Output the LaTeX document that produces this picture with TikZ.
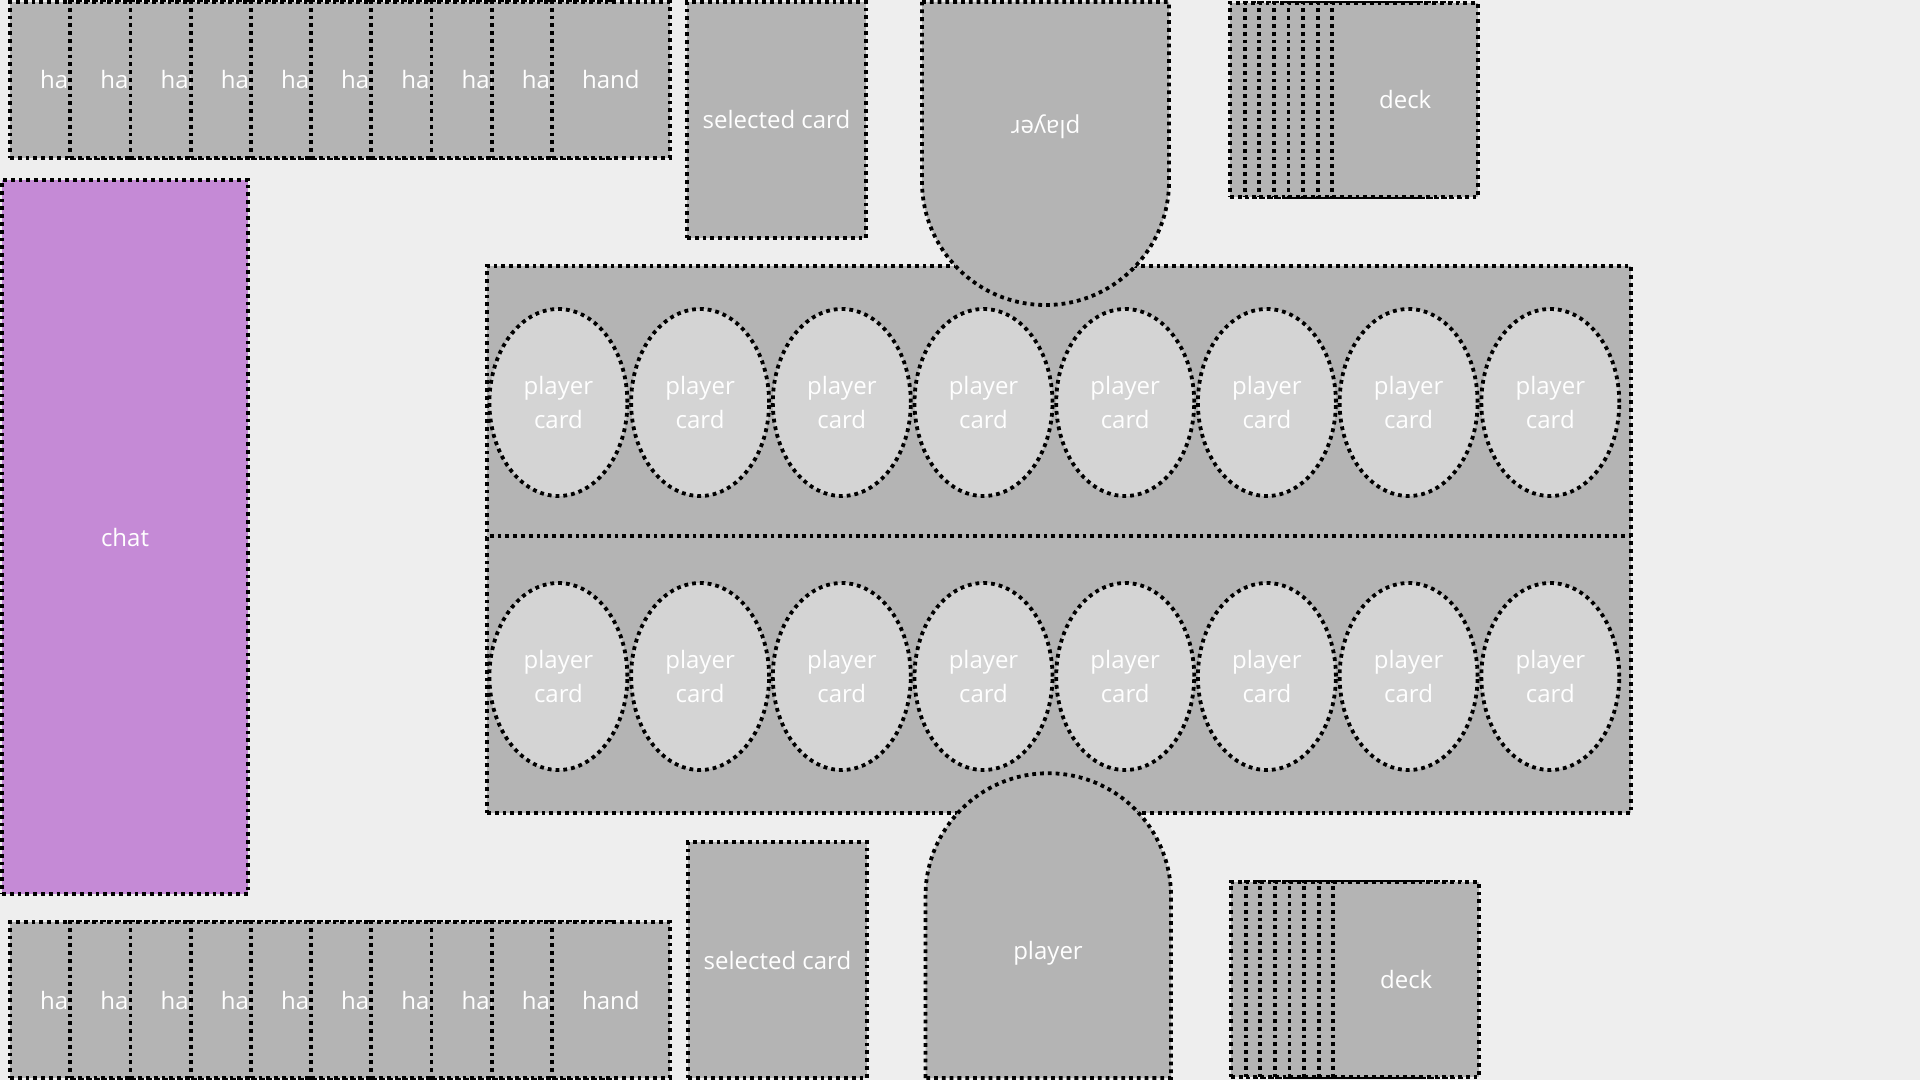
\documentclass[tikz,border=0pt]{standalone}
\usepackage{fontspec}
\setmainfont{Open Sans}
\usetikzlibrary{shapes.geometric}
\definecolor{bgpaper}{HTML}{EEEEEE}
\definecolor{cardgray}{HTML}{B4B4B4}
\definecolor{lightcard}{HTML}{D4D4D4}
\definecolor{chatpurple}{HTML}{C58AD6}
\newcommand\lblfont{\fontsize{12}{17}\selectfont}
\tikzset{
  outline/.style={draw=black, line width=1.9pt, dash pattern=on 1.9pt off 2.0pt},
  cardbox/.style={outline, fill=cardgray, anchor=north west, inner sep=0pt, outer sep=0pt, text=white, font=\lblfont},
  handcard/.style={cardbox, minimum width=59pt, minimum height=78pt},
  deckcard/.style={cardbox, minimum width=73pt, minimum height=97pt},
  selcard/.style={cardbox, minimum width=89.5pt, minimum height=118pt},
  boardhalf/.style={cardbox, minimum width=572pt},
  pcard/.style={ellipse, outline, fill=lightcard, minimum width=69pt, minimum height=93.5pt, inner sep=0pt, align=center, text=white, font=\lblfont},
  lbl/.style={text=white, font=\lblfont, inner sep=0pt},
}
\begin{document}
\begin{tikzpicture}[x=0.5pt,y=-0.5pt]
\useasboundingbox (0,0) rectangle (1920,1080);
\fill[bgpaper] (0,0) rectangle (1920,1080);

% hands
\foreach \i in {0,...,9} {
  \node[handcard] (htop\i) at ({10+60.2*\i},2) {hand};
}
\foreach \i in {0,...,9} {
  \node[handcard] (hbot\i) at ({10+60.2*\i},922) {hand};
}

% selected cards
\node[selcard] (seltop) at (687,2) {selected card};
\node[selcard] (selbot) at (688,842) {selected card};

% decks
\foreach \i in {0,...,6} {
  \node[deckcard] (dtop\i) at ({1230+14.6*\i},3) {};
}
\node[deckcard] (dtop7) at (1332.2,3) {deck};
\foreach \i in {0,...,6} {
  \node[deckcard, minimum height=97.5pt] (dbot\i) at ({1231+14.6*\i},882) {};
}
\node[deckcard, minimum height=97.5pt] (dbot7) at (1333.2,882) {deck};

% chat
\node[cardbox, fill=chatpurple, minimum width=123pt, minimum height=357pt] (chat) at (2,180) {chat};

% board
\node[boardhalf, minimum height=136.5pt] (boardtop) at (487,266) {};
\node[boardhalf, minimum height=138.5pt] (boardbot) at (487,536) {};
\foreach \i in {0,...,7} {
  \node[pcard] (pct\i) at ({558.4+141.7*\i},402.5) {player\\card};
  \node[pcard] (pcb\i) at ({558.4+141.7*\i},676.5) {player\\card};
}

% players
\draw[outline, fill=cardgray] (922,2) -- (1169,2) -- (1169,181.5)
  arc[start angle=0, end angle=-180, radius=61.75pt] -- cycle;
\node[lbl, rotate=180] (ptop) at (1045.5,127) {player};
\draw[outline, fill=cardgray] (925.5,1078) -- (925.5,896)
  arc[start angle=180, end angle=0, radius=61.375pt] -- (1171,1078) -- cycle;
\node[lbl] (pbot) at (1048,953) {player};
\end{tikzpicture}
\end{document}
